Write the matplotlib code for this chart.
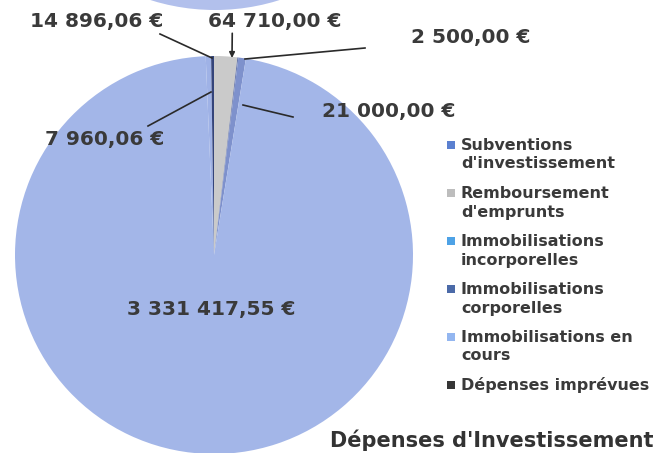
import matplotlib
matplotlib.use("Agg")
import matplotlib.pyplot as plt
from matplotlib.patches import Circle, Rectangle

# ---- data ----
categories = ["Subventions\nd'investissement", "Remboursement\nd'emprunts",
              "Immobilisations\nincorporelles", "Immobilisations\ncorporelles",
              "Immobilisations en\ncours", "Dépenses imprévues"]
legend_colors = ["#5b80d0", "#bdbdbd", "#4ea2e6", "#4b6aa8", "#93b6f0", "#363636"]

# slices in drawing order (clockwise from 12 o'clock)
slice_values = [64710.00, 2500.00, 21000.00, 3331417.55, 14896.06, 7960.06]
slice_colors = ["#cacaca", "#5a6aa0", "#7e91cc", "#a3b6e8", "#9fb2e6", "#34447a"]
slice_labels = ["64 710,00 €", "2 500,00 €", "21 000,00 €", "3 331 417,55 €",
                "14 896,06 €", "7 960,06 €"]
title = "Dépenses d'Investissement"

W, H = 655, 453
def Y(y):
    return H - y

fig = plt.figure(figsize=(6.55, 4.53), dpi=100)
ax = fig.add_axes([0, 0, 1, 1])

# partial pie of previous chart cropped at the top
ax.add_patch(Circle((215, Y(-205)), 215, color="#b2c0ec", lw=0))

ax.pie(slice_values, colors=slice_colors, startangle=90, counterclock=False,
       center=(214, Y(255)), radius=199, wedgeprops=dict(linewidth=0),
       frame=True)
ax.set_xlim(0, W)
ax.set_ylim(0, H)
ax.set_aspect("equal")
ax.axis("off")

tc = "#3a3a3a"
fs = 14.5
lc = "#2a2a2a"
# label positions / leader lines (layout)
ax.annotate(slice_labels[0], xy=(232, Y(58)), xytext=(275, Y(21)),
            ha="center", va="center", fontsize=fs, fontweight="bold", color=tc,
            arrowprops=dict(arrowstyle="-|>", color=lc, lw=1.2, mutation_scale=8,
                            shrinkA=0, shrinkB=0, relpos=(0.18, 0)))
ax.text(471, Y(37), slice_labels[1], ha="center", va="center",
        fontsize=fs, fontweight="bold", color=tc)
ax.plot([245, 365], [Y(59), Y(48)], color=lc, lw=1.2)
ax.text(389, Y(112), slice_labels[2], ha="center", va="center",
        fontsize=fs, fontweight="bold", color=tc)
ax.plot([243, 293], [Y(105), Y(117)], color=lc, lw=1.2)
ax.text(211, Y(310), slice_labels[3], ha="center", va="center",
        fontsize=fs, fontweight="bold", color=tc)
ax.text(97, Y(21), slice_labels[4], ha="center", va="center",
        fontsize=fs, fontweight="bold", color=tc)
ax.plot([160, 212], [Y(34), Y(58)], color=lc, lw=1.2)
ax.text(105, Y(140), slice_labels[5], ha="center", va="center",
        fontsize=fs, fontweight="bold", color=tc)
ax.plot([148, 211], [Y(126), Y(92)], color=lc, lw=1.2)

# legend (markers aligned with first line of each entry, as in the original)
for i, (lab, col) in enumerate(zip(categories, legend_colors)):
    y0 = 145 + 48 * i
    ax.add_patch(Rectangle((447, Y(y0) - 4), 8, 8, facecolor=col, lw=0))
    for j, line in enumerate(lab.split("\n")):
        ax.text(461, Y(y0 + 19 * j), line, ha="left", va="center",
                fontsize=11.5, fontweight="bold", color=tc)

fig.text(653 / W, 1 - 440 / H, title, ha="right", va="center",
         fontsize=15, fontweight="bold", color="#333333")

fig.savefig("out.png", dpi=100, facecolor="white")
